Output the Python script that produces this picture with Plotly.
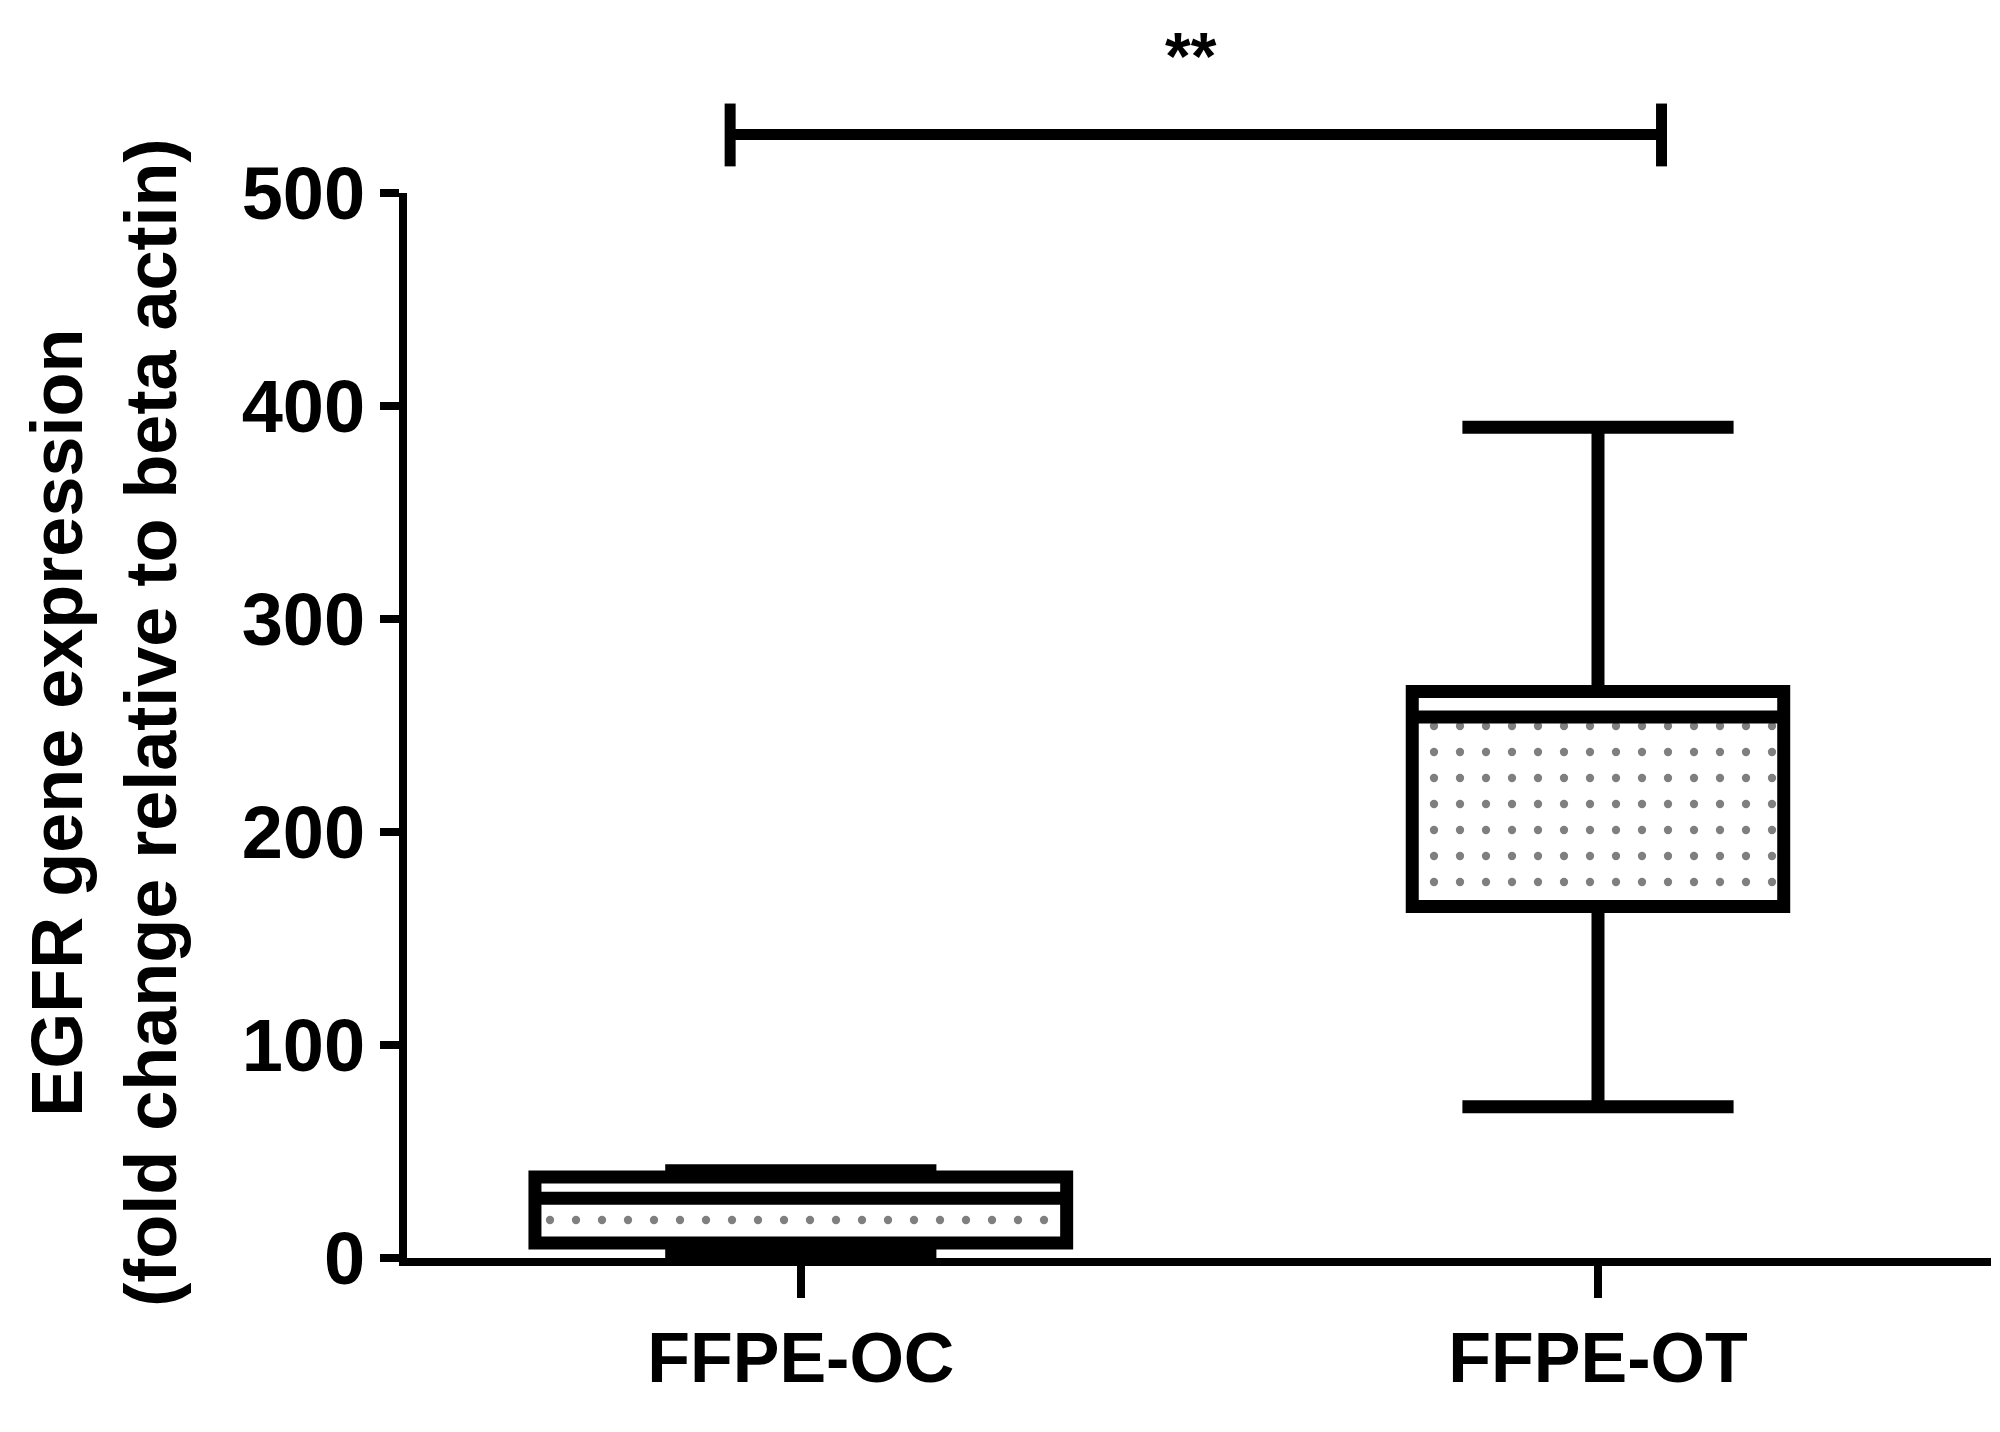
import plotly.graph_objects as go

groups = ["FFPE-OC", "FFPE-OT"]
positions = [0, 1]
lower = [3, 71]
q1 = [7, 165]
median = [28, 254]
q3 = [38, 266]
upper = [41, 390]
box_widths = [0.667, 0.466]
whisker_ratio = [0.51, 0.73]

FONT = "Liberation Sans, Arial, sans-serif"

fig = go.Figure()

# dotted fill between Q1 and median
for i in range(len(groups)):
    fig.add_trace(go.Bar(
        x=[positions[i]], y=[median[i] - q1[i]], base=[q1[i]],
        width=box_widths[i],
        marker=dict(color="white", line_width=0,
                    pattern=dict(shape=".", fgcolor="black", bgcolor="white",
                                 size=26, solidity=0.08)),
        showlegend=False, hoverinfo="skip",
    ))

for i in range(len(groups)):
    fig.add_trace(go.Box(
        x=[positions[i]], q1=[q1[i]], median=[median[i]], q3=[q3[i]],
        lowerfence=[lower[i]], upperfence=[upper[i]],
        width=box_widths[i], whiskerwidth=whisker_ratio[i],
        fillcolor="rgba(0,0,0,0)", line=dict(color="black", width=13),
        showlegend=False, name=groups[i],
    ))

# significance bracket
for shp in [
    dict(x0=0.204, x1=0.792, y0=1.055, y1=1.055),
    dict(x0=0.204, x1=0.204, y0=1.025, y1=1.084),
    dict(x0=0.792, x1=0.792, y0=1.025, y1=1.084),
]:
    fig.add_shape(type="line", xref="paper", yref="paper",
                  line=dict(color="black", width=11), **shp)

fig.add_annotation(text="<b>**</b>", xref="paper", yref="paper", x=0.495, y=1.165,
                   showarrow=False, font=dict(family=FONT, size=66, color="black"))
fig.add_annotation(text="<b>EGFR gene expression<br>(fold change relative to beta actin)</b>",
                   xref="paper", yref="paper", x=-0.191, y=0.503, textangle=-90,
                   xanchor="center", yanchor="middle",
                   showarrow=False, font=dict(family=FONT, size=72, color="black"))

fig.update_layout(
    width=2000, height=1432,
    margin=dict(l=399, r=17, t=185, b=182),
    plot_bgcolor="white", paper_bgcolor="white",
    barmode="overlay", bargap=0,
    font=dict(family=FONT, color="black"),
)
fig.update_xaxes(
    range=[-0.494, 1.493], tickvals=positions,
    ticktext=[f"<b>{g}</b>" for g in groups],
    tickfont=dict(size=70), showgrid=False, zeroline=False,
    showline=True, linecolor="black", linewidth=8,
    ticks="outside", ticklen=32, tickwidth=8, tickcolor="black",
)
fig.update_yaxes(
    range=[0, 500], tickvals=[0, 100, 200, 300, 400, 500],
    ticktext=[f"<b>{v}</b>" for v in [0, 100, 200, 300, 400, 500]],
    tickfont=dict(size=74), showgrid=False, zeroline=False,
    showline=True, linecolor="black", linewidth=8,
    ticks="outside", ticklen=19, tickwidth=8, tickcolor="black",
)

fig.write_html("out.html")
